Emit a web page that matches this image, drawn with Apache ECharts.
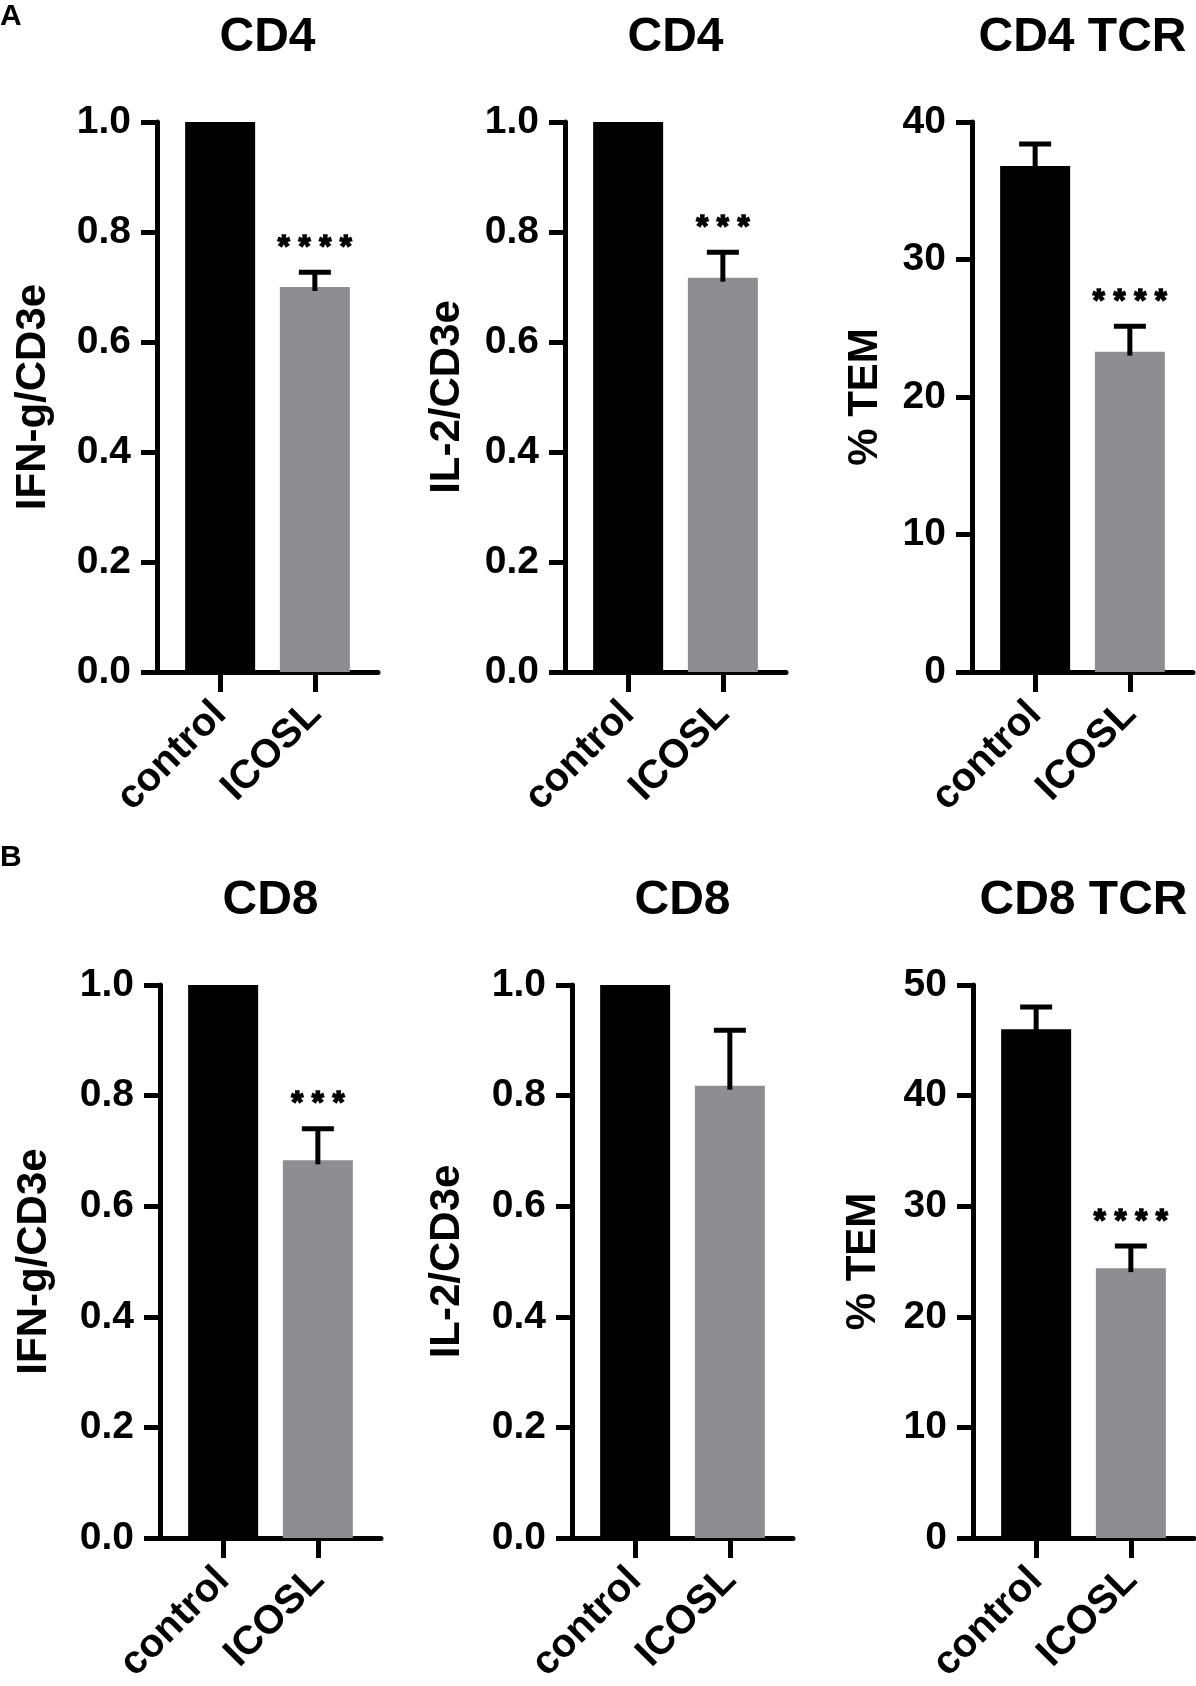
<!DOCTYPE html>
<html>
<head>
<meta charset="utf-8">
<script src="https://cdn.jsdelivr.net/npm/echarts@6/dist/echarts.min.js"></script>
<style>
html,body{margin:0;padding:0;background:#fff;}
#chart{width:1196px;height:1686px;}
</style>
</head>
<body>
<div id="chart"></div>
<script>
// ---- data ----
const categories = ['control', 'ICOSL'];
const panelLetters = ['A', 'B'];
const titles = ['CD4', 'CD4', 'CD4 TCR', 'CD8', 'CD8', 'CD8 TCR'];
const yNames = ['IFN-g/CD3e', 'IL-2/CD3e', '% TEM', 'IFN-g/CD3e', 'IL-2/CD3e', '% TEM'];
const yMax = [1, 1, 40, 1, 1, 50];
const yStep = [0.2, 0.2, 10, 0.2, 0.2, 10];
const means = [
  [1.0, 0.70],
  [1.0, 0.717],
  [36.8, 23.3],
  [1.0, 0.683],
  [1.0, 0.818],
  [46.0, 24.4]
];
const errors = [
  [0, 0.027],
  [0, 0.046],
  [1.6, 1.85],
  [0, 0.057],
  [0, 0.10],
  [2.0, 2.0]
];
const stars = [
  ['', '****'],
  ['', '***'],
  ['', '****'],
  ['', '***'],
  ['', ''],
  ['', '****']
];

// ---- layout ----
const FONT = "'Liberation Sans', Arial, Helvetica, sans-serif";
const gridLeft = [157, 565, 972, 160, 572, 973];
const rowTop = [122, 985];
const rowH = [550, 553];
const gridW = 221;
const nameGaps = [103, 97, 86, 105, 104, 89];
const barColors = ['#000000', '#8e8d92'];
const slot = j => 2 + 3 * j;   // category positions on a 0..7 axis

const chart = echarts.init(document.getElementById('chart'), null, {renderer: 'canvas'});

const grids = [], xAxes = [], yAxes = [], series = [], graphics = [];

for (let i = 0; i < 6; i++) {
  const row = Math.floor(i / 3);
  grids.push({left: gridLeft[i], top: rowTop[row], width: gridW, height: rowH[row], outerBoundsMode: 'none', containLabel: false});
  const slots = categories.map((c, j) => slot(j));
  xAxes.push({
    gridIndex: i, type: 'value', min: 0, max: 7,
    splitLine: {show: false},
    axisLine: {show: true, onZero: false, lineStyle: {color: '#000', width: 5}},
    axisTick: {show: true, customValues: slots, length: 20, lineStyle: {color: '#000', width: 5}},
    axisLabel: {
      show: true, customValues: slots, rotate: 45, margin: 36,
      formatter: v => categories[Math.round((v - 2) / 3)],
      color: '#000', fontSize: 40, fontWeight: 'bold', fontFamily: FONT
    }
  });
  const isFrac = yMax[i] === 1;
  yAxes.push({
    gridIndex: i, type: 'value', min: 0, max: yMax[i], interval: yStep[i],
    splitLine: {show: false},
    axisLine: {show: true, lineStyle: {color: '#000', width: 5}},
    axisTick: {show: true, length: 16, lineStyle: {color: '#000', width: 5}},
    axisLabel: {
      margin: 26, color: '#000', fontSize: 39, fontWeight: 'bold', fontFamily: FONT,
      formatter: v => isFrac ? v.toFixed(1) : String(Math.round(v))
    },
    name: yNames[i], nameLocation: 'middle', nameGap: nameGaps[i],
    nameTextStyle: {color: '#000', fontSize: 42, fontWeight: 'bold', fontFamily: FONT}
  });
  series.push({
    type: 'bar', xAxisIndex: i, yAxisIndex: i, barWidth: 70,
    data: means[i].map((m, j) => ({value: [slot(j), m], itemStyle: {color: barColors[j]}})),
    z: 1
  });
  const si = i;
  series.push({
    type: 'custom', xAxisIndex: i, yAxisIndex: i, z: 5,
    data: means[i].map((m, j) => [slot(j), m, errors[i][j], j]),
    renderItem: function (params, api) {
      const x = api.value(0), m = api.value(1), e = api.value(2), j = api.value(3);
      const base = api.coord([x, m]);
      const top = api.coord([x, m + e]);
      const children = [];
      if (e > 0) {
        children.push({type: 'line', shape: {x1: base[0], y1: base[1] + 4, x2: top[0], y2: top[1]},
          style: {stroke: '#000', lineWidth: 5}});
        children.push({type: 'line', shape: {x1: top[0] - 16, y1: top[1], x2: top[0] + 16, y2: top[1]},
          style: {stroke: '#000', lineWidth: 5}});
      }
      const s = stars[si][j];
      if (s) {
        children.push({type: 'text', x: top[0], y: top[1] - 24,
          style: {text: s.split('').join(' '), textAlign: 'center', textVerticalAlign: 'middle',
            fill: '#000', fontSize: 31, fontWeight: 'bold', fontFamily: FONT,
            stroke: '#000', lineWidth: 1.5}});
      }
      return {type: 'group', children: children};
    }
  });
  graphics.push({
    type: 'text', x: gridLeft[i] + gridW / 2, y: rowTop[row] - 84,
    style: {text: titles[i], textAlign: 'center', textVerticalAlign: 'middle',
      fill: '#000', fontSize: 48, fontWeight: 'bold', fontFamily: FONT}
  });
}
graphics.push({type: 'text', x: 0, y: 17, style: {text: panelLetters[0], textAlign: 'left', textVerticalAlign: 'middle', fill: '#000', fontSize: 30, fontWeight: 'bold', fontFamily: FONT}});
graphics.push({type: 'text', x: 0, y: 858, style: {text: panelLetters[1], textAlign: 'left', textVerticalAlign: 'middle', fill: '#000', fontSize: 30, fontWeight: 'bold', fontFamily: FONT}});

chart.setOption({
  animation: false,
  backgroundColor: '#fff',
  grid: grids, xAxis: xAxes, yAxis: yAxes, series: series,
  graphic: graphics
});
</script>
</body>
</html>
